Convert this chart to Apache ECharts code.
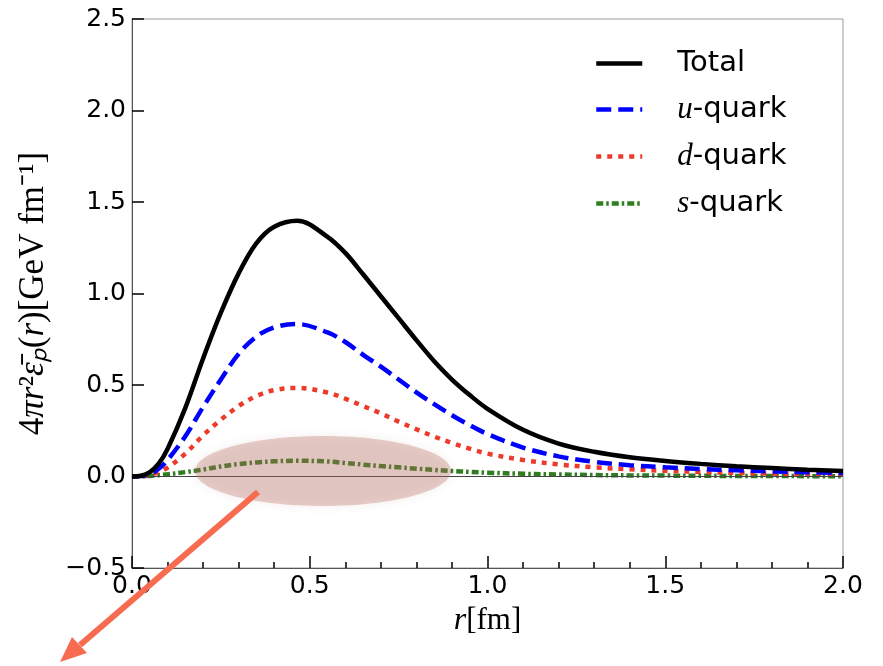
<!DOCTYPE html>
<html>
<head>
<meta charset="utf-8">
<script src="https://cdn.jsdelivr.net/npm/echarts@6/dist/echarts.min.js"></script>
<style>
  html, body { margin: 0; padding: 0; background: #fff; }
  #chart { width: 883px; height: 666px; }
</style>
</head>
<body>
<div id="chart"></div>
<script>
// r values (fm)
var rList = [0, 0.025, 0.05, 0.075, 0.1, 0.15, 0.2, 0.25, 0.3, 0.35, 0.4, 0.465, 0.55, 0.6, 0.65, 0.7, 0.75, 0.8, 0.85, 0.9, 0.95, 1.0,
             1.1, 1.2, 1.3, 1.4, 1.5, 1.6, 1.7, 1.8, 1.9, 2.0];
var totalVals = [0, 0.004, 0.024, 0.07, 0.15, 0.375, 0.645, 0.895, 1.11, 1.275, 1.365, 1.398, 1.31, 1.222, 1.105, 0.985, 0.865, 0.745, 0.63, 0.53, 0.445, 0.37,
                 0.255, 0.18, 0.135, 0.105, 0.085, 0.069, 0.056, 0.046, 0.037, 0.03];
var uVals = [0, 0.002, 0.013, 0.042, 0.09, 0.22, 0.38, 0.53, 0.67, 0.765, 0.815, 0.833, 0.787, 0.735, 0.665, 0.6, 0.53, 0.46, 0.395, 0.335, 0.28, 0.232,
             0.158, 0.11, 0.08, 0.062, 0.05, 0.041, 0.034, 0.028, 0.023, 0.019];
var dVals = [0, 0.001, 0.008, 0.024, 0.048, 0.125, 0.225, 0.31, 0.385, 0.44, 0.472, 0.484, 0.459, 0.425, 0.385, 0.345, 0.3, 0.258, 0.218, 0.183, 0.152, 0.125,
             0.09, 0.066, 0.05, 0.039, 0.031, 0.025, 0.02, 0.016, 0.013, 0.011];
var sVals = [0, 0.001, 0.003, 0.007, 0.012, 0.024, 0.038, 0.055, 0.068, 0.077, 0.083, 0.086, 0.082, 0.074, 0.065, 0.057, 0.05, 0.043, 0.036, 0.03, 0.025, 0.021,
             0.015, 0.011, 0.008, 0.006, 0.005, 0.004, 0.003, 0.003, 0.002, 0.002];
var seriesNames = ['Total', 'u-quark', 'd-quark', 's-quark'];

function pairs(vals) {
  return rList.map(function (r, i) { return [r, vals[i]]; });
}

var myChart = echarts.init(document.getElementById('chart'));

var tickFont = { color: '#000', fontSize: 25, fontFamily: 'DejaVu Sans' };
var smoothness = 0.35;

var option = {
  animation: false,
  backgroundColor: '#fff',
  grid: {
    left: 132, right: 40, top: 19, bottom: 98,
    show: true, borderColor: '#999', borderWidth: 1
  },
  legend: {
    orient: 'vertical',
    left: 589, top: 44,
    itemWidth: 46, itemHeight: 24, itemGap: 16,
    itemStyle: { opacity: 0 },
    lineStyle: { width: 4.5 },
    data: seriesNames,
    formatter: function (name) {
      if (name === 'Total') return '{n|Total}';
      return '{m|' + name.charAt(0) + '}{n|' + name.slice(1) + '}';
    },
    textStyle: {
      padding: [0, 0, 0, 30],
      rich: {
        n: { fontSize: 29, fontFamily: 'DejaVu Sans', color: '#000' },
        m: { fontSize: 31, fontFamily: 'Liberation Serif', fontStyle: 'italic', color: '#000' }
      }
    }
  },
  xAxis: {
    type: 'value', min: 0, max: 2, interval: 0.5,
    name: '{i|r}{n|[fm]}',
    nameLocation: 'middle', nameGap: 37,
    nameTextStyle: {
      rich: {
        i: { fontSize: 32, fontFamily: 'Liberation Serif', fontStyle: 'italic', color: '#000' },
        n: { fontSize: 31, fontFamily: 'Liberation Serif', color: '#000' }
      }
    },
    axisLine: { onZero: false, lineStyle: { color: '#555', width: 1 } },
    axisTick: { inside: true, length: 12, lineStyle: { color: '#000', width: 1.5 } },
    minorTick: { show: true, splitNumber: 5, length: 6, lineStyle: { color: '#000', width: 1.5 } },
    splitLine: { show: false },
    axisLabel: Object.assign({ margin: 6, formatter: function (v) { return v.toFixed(1); } }, tickFont)
  },
  yAxis: {
    type: 'value', min: -0.5, max: 2.5, interval: 0.5,
    name: '{n|4}{i|πr}{n|²}{i|ε̄ₚ}{n|(}{i|r}{n|)[GeV fm⁻¹]}',
    nameLocation: 'middle', nameGap: 81,
    nameTextStyle: {
      rich: {
        i: { fontSize: 35, fontFamily: 'Liberation Serif', fontStyle: 'italic', color: '#000' },
        n: { fontSize: 35, fontFamily: 'Liberation Serif', color: '#000' }
      }
    },
    axisLine: { onZero: false, lineStyle: { color: '#555', width: 1 } },
    axisTick: { inside: true, length: 12, lineStyle: { color: '#000', width: 1.5 } },
    splitLine: { show: false },
    axisLabel: Object.assign({ margin: 6, formatter: function (v) { return v.toFixed(1).replace('-', '\u2212'); } }, tickFont)
  },
  series: [
    {
      name: 'Total', type: 'line', smooth: smoothness, symbol: 'none',
      data: pairs(totalVals), z: 5,
      lineStyle: { color: '#000', width: 4.5, type: 'solid' },
      itemStyle: { color: '#000' }
    },
    {
      name: 'u-quark', type: 'line', smooth: smoothness, symbol: 'none',
      data: pairs(uVals), z: 4,
      lineStyle: { color: '#0000ff', width: 4.5, type: [15, 7] },
      itemStyle: { color: '#0000ff' }
    },
    {
      name: 'd-quark', type: 'line', smooth: smoothness, symbol: 'none',
      data: pairs(dVals), z: 3,
      lineStyle: { color: '#ee3a2a', width: 4.5, type: [5, 6] },
      itemStyle: { color: '#ee3a2a' }
    },
    {
      name: 's-quark', type: 'line', smooth: smoothness, symbol: 'none',
      data: pairs(sVals), z: 2,
      lineStyle: { color: '#2e7d1e', width: 4.5, type: [7, 3, 2.5, 3] },
      itemStyle: { color: '#2e7d1e' },
      markLine: {
        silent: true, symbol: 'none', label: { show: false },
        lineStyle: { color: '#444', width: 1, type: 'solid' },
        data: [{ yAxis: 0 }]
      }
    }
  ],
  graphic: [
    {
      type: 'ellipse', z: 100,
      shape: { cx: 323, cy: 471, rx: 128, ry: 35 },
      style: { fill: 'rgba(185,110,95,0.32)', shadowBlur: 10, shadowColor: 'rgba(160,100,90,0.35)' }
    },
    {
      type: 'line', z: 101,
      shape: { x1: 258, y1: 492, x2: 80, y2: 645 },
      style: { stroke: '#f76b50', lineWidth: 6 }
    },
    {
      type: 'polygon', z: 101,
      shape: { points: [[60, 662], [87, 653], [72, 637]] },
      style: { fill: '#f76b50' }
    }
  ]
};

myChart.setOption(option);
</script>
</body>
</html>
